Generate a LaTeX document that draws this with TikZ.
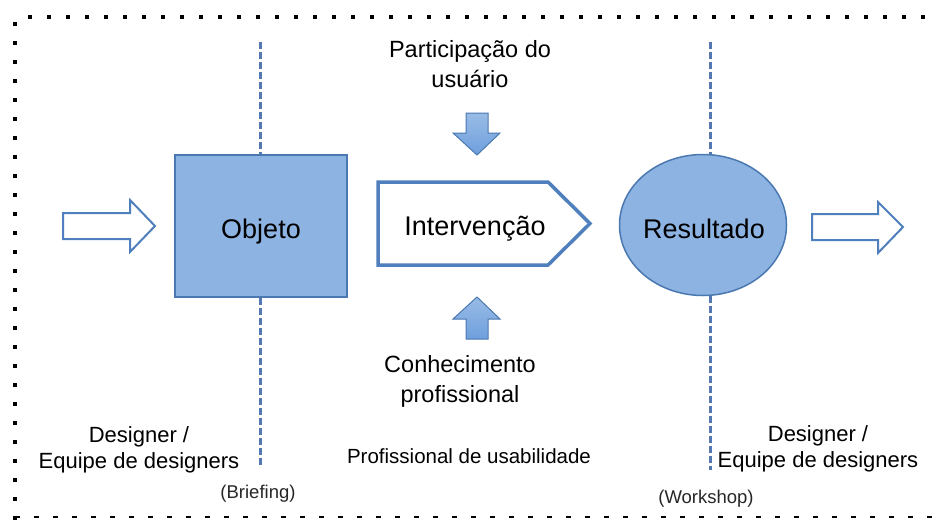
\documentclass[tikz,border=0pt]{standalone}
\usepackage{fontspec}
\setmainfont{Liberation Sans}
\usetikzlibrary{shapes.geometric}
\definecolor{boxfill}{HTML}{8DB3E2}
\definecolor{boxline}{HTML}{4A78B0}
\definecolor{dashblue}{HTML}{5478B0}
\definecolor{arrline}{HTML}{4F7FBC}
\definecolor{blockfill}{HTML}{6E9FDC}
\tikzset{
  big/.style={font=\fontsize{27pt}{32pt}\selectfont, text=black},
  lbl/.style={font=\fontsize{21.5pt}{29pt}\selectfont, align=center, text=black},
  biglbl/.style={font=\fontsize{23.5pt}{30pt}\selectfont, align=center, text=black},
  small/.style={font=\fontsize{18.5pt}{22pt}\selectfont, text=black!85},
  guide/.style={draw=dashblue, line width=3pt, dash pattern=on 7pt off 3pt},
  openarrow/.style={draw=arrline, line width=2pt, fill=white, line join=miter},
  blockarrow/.style={draw=boxline, line width=1pt, top color=blockfill!70, bottom color=blockfill, middle color=blockfill!85},
}
\begin{document}
\begin{tikzpicture}[x=1pt,y=-1pt]
\useasboundingbox (0,0) rectangle (937,520);
% frame
\draw[line width=3.5pt, dash pattern=on 3.5pt off 15.5pt] (28,17) -- (937,17);
\draw[line width=3.5pt, dash pattern=on 3.5pt off 15.5pt] (15,22) -- (15,520);
\draw[line width=2.5pt, dash pattern=on 5pt off 14pt] (15,517) -- (937,517);

% main shapes
\node[draw=boxline, line width=1.5pt, fill=boxfill, minimum width=172pt, minimum height=142pt, inner sep=0pt] (obj) at (261,226) {};
\node[big] (objt) at (261,232) {Objeto};

\node[ellipse, draw=boxline, line width=1.5pt, fill=boxfill, minimum width=167pt, minimum height=141pt, inner sep=0pt] (res) at (703,225) {};
\node[big] (rest) at (704,229) {Resultado};

\draw[draw=arrline, line width=3.5pt, fill=white, line join=miter] (378,182) -- (548,182) -- (590,223.5) -- (548,265) -- (378,265) -- cycle;
\node[big] (intt) at (475,229) {Intervenção};

% guide lines
\coordinate (lt) at (260,42);
\coordinate (lb) at (260,465);
\coordinate (rt) at (710,42);
\coordinate (rb) at (710,470);
\draw[guide] (lt) -- (obj.north -| lt);
\draw[guide] (obj.south -| lb) -- (lb);
\draw[guide] (rt) -- (rt |- res.north);
\draw[guide] (rb |- res.south) -- (rb);

% open arrows
\draw[openarrow] (63,213) -- (130,213) -- (130,200) -- (155,226) -- (130,252) -- (130,239) -- (63,239) -- cycle;
\draw[openarrow] (812,214) -- (878,214) -- (878,202) -- (903,227) -- (878,253) -- (878,240) -- (812,240) -- cycle;

% block arrows
\draw[blockarrow] (466,113) -- (488,113) -- (488,133) -- (500,133) -- (477,155) -- (453,133) -- (466,133) -- cycle;
\draw[blockarrow] (477,297) -- (500,319) -- (488,319) -- (488,339) -- (466,339) -- (466,319) -- (453,319) -- cycle;

% labels
\node[biglbl] (part) at (470,64) {Participação do\\usuário};
\node[biglbl] (conh) at (460,381) {Conhecimento\\profissional};
\node[lbl, font=\fontsize{20.5pt}{26pt}\selectfont] (prof) at (469,456) {Profissional de usabilidade};
\node[lbl, font=\fontsize{22pt}{26pt}\selectfont] (desl) at (139,450) {Designer /\\Equipe de designers};
\node[lbl, font=\fontsize{22pt}{26pt}\selectfont] (desr) at (818,449) {Designer /\\Equipe de designers};
\node[small] (brief) at (258,494) {(Briefing)};
\node[small] (work) at (706,499) {(Workshop)};
\end{tikzpicture}
\end{document}
